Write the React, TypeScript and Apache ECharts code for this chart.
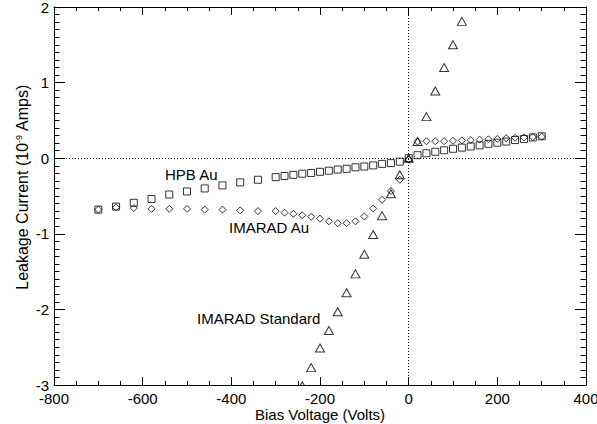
import React, { useEffect, useRef } from "react";
import * as echarts from "echarts";

// HPB Au (squares)
const hpbX = [-700, -660, -620, -580, -540, -500, -460, -420, -380, -340,
  -300, -280, -260, -240, -220, -200, -180, -160, -140, -120, -100, -80, -60, -40, -20,
  0, 20, 40, 60, 80, 100, 120, 140, 160, 180, 200, 220, 240, 260, 280, 300];
const hpbY = [-0.68, -0.64, -0.59, -0.54, -0.48, -0.44, -0.40, -0.36, -0.32, -0.285,
  -0.25, -0.235, -0.22, -0.205, -0.195, -0.18, -0.165, -0.15, -0.14, -0.12, -0.11, -0.095, -0.075, -0.065, -0.045,
  0.0, 0.04, 0.065, 0.085, 0.105, 0.125, 0.14, 0.155, 0.17, 0.19, 0.205, 0.22, 0.24, 0.255, 0.275, 0.29];

// IMARAD Au (diamonds)
const auX = hpbX;
const auY = [-0.68, -0.65, -0.66, -0.67, -0.67, -0.67, -0.68, -0.68, -0.69, -0.70,
  -0.70, -0.72, -0.735, -0.755, -0.775, -0.80, -0.835, -0.86, -0.86, -0.835, -0.77, -0.665, -0.55, -0.435, -0.285,
  -0.02, 0.22, 0.225, 0.225, 0.225, 0.23, 0.235, 0.24, 0.245, 0.25, 0.255, 0.265, 0.27, 0.275, 0.28, 0.285];

// IMARAD Standard (triangles)
const stdX = [-240, -220, -200, -180, -160, -140, -120, -100, -80, -60, -40, -20, 0, 20, 40, 60, 80, 100, 120];
const stdY = [-3.01, -2.77, -2.51, -2.28, -2.03, -1.78, -1.53, -1.27, -1.01, -0.76, -0.47, -0.22, 0.0, 0.22, 0.55, 0.89, 1.20, 1.50, 1.81];

const xTicks = { min: -800, max: 400, interval: 200 };
const yTicks = { min: -3, max: 2, interval: 1 };

const labels = ["HPB Au", "IMARAD Au", "IMARAD Standard"];
const xTitle = "Bias Voltage (Volts)";

const FONT = "'Liberation Sans', Arial, Helvetica, sans-serif";

const pairs = (xs: number[], ys: number[]) => xs.map((x, i) => [x, ys[i]]);

export default function App() {
  const ref = useRef<HTMLDivElement>(null);
  useEffect(() => {
    document.body.style.margin = "0";
    const chart = echarts.init(ref.current!, null, { renderer: "svg" });
    const axisCommon = {
      axisLine: { show: true, onZero: false, lineStyle: { color: "#000", width: 1 } },
      splitLine: { show: false },
      minorSplitLine: { show: false },
    };
    const symStyle = { color: "rgba(0,0,0,0)", borderColor: "#000", borderWidth: 1 };
    chart.setOption({
      animation: false,
      backgroundColor: "#fff",
      grid: { left: 54, right: 11, top: 7, bottom: 39, containLabel: false, outerBoundsMode: "none" },
      xAxis: [
        {
          type: "value", ...xTicks, position: "bottom", ...axisCommon,
          axisTick: { inside: true, length: 8, lineStyle: { color: "#000" } },
          minorTick: { show: true, splitNumber: 4, length: 4, lineStyle: { color: "#000" } },
          axisLabel: { color: "#000", fontSize: 15, fontFamily: FONT, margin: 6 },
        },
        {
          type: "value", ...xTicks, position: "top", ...axisCommon,
          axisTick: { inside: true, length: 8, lineStyle: { color: "#000" } },
          minorTick: { show: true, splitNumber: 4, length: 4, lineStyle: { color: "#000" } },
          axisLabel: { show: false },
        },
      ],
      yAxis: [
        {
          type: "value", ...yTicks, position: "left", ...axisCommon,
          axisTick: { inside: true, length: 11, lineStyle: { color: "#000" } },
          minorTick: { show: true, splitNumber: 10, length: 5.5, lineStyle: { color: "#000" } },
          axisLabel: { color: "#000", fontSize: 15, fontFamily: FONT, margin: 5 },
        },
        {
          type: "value", ...yTicks, position: "right", ...axisCommon,
          axisTick: { inside: true, length: 11, lineStyle: { color: "#000" } },
          minorTick: { show: true, splitNumber: 10, length: 5.5, lineStyle: { color: "#000" } },
          axisLabel: { show: false },
        },
      ],
      series: [
        {
          name: labels[0], type: "scatter", data: pairs(hpbX, hpbY),
          symbol: "rect", symbolSize: 7, itemStyle: symStyle, z: 3,
          markLine: {
            silent: true, symbol: ["none", "none"], label: { show: false },
            lineStyle: { color: "#000", width: 1, type: [1, 2] },
            data: [{ yAxis: 0 }, { xAxis: 0 }],
          },
        },
        {
          name: labels[1], type: "scatter", data: pairs(auX, auY),
          symbol: "diamond", symbolSize: [7, 7], itemStyle: symStyle, z: 3,
        },
        {
          name: labels[2], type: "scatter", data: pairs(stdX, stdY), clip: false,
          symbol: "triangle", symbolSize: [9, 8], itemStyle: symStyle, z: 3,
        },
      ],
      graphic: [
        { type: "rect", z: 100, shape: { x: 290, y: 386, width: 20, height: 8 }, style: { fill: "#fff" } },
        { type: "text", x: 165, y: 174, style: { text: labels[0], font: `15px ${FONT}`, fill: "#000", verticalAlign: "middle" } },
        { type: "text", x: 229, y: 227, style: { text: labels[1], font: `15px ${FONT}`, fill: "#000", verticalAlign: "middle" } },
        { type: "text", x: 197, y: 318, style: { text: labels[2], font: `15px ${FONT}`, fill: "#000", verticalAlign: "middle" } },
        { type: "text", x: 320, y: 414, style: { text: xTitle, font: `15px ${FONT}`, fill: "#000", align: "center", verticalAlign: "middle" } },
        {
          type: "text", x: 22, y: 187, rotation: Math.PI / 2,
          style: {
            text: "{a|Leakage Current (10}{s|-9}{a| Amps)}",
            align: "center", verticalAlign: "middle", fill: "#000",
            rich: {
              a: { fontSize: 16, fontFamily: FONT, color: "#000" },
              s: { fontSize: 9, fontFamily: FONT, color: "#000", verticalAlign: "top" },
            },
          },
        },
      ],
    });
    return () => chart.dispose();
  }, []);
  return <div ref={ref} style={{ width: 597, height: 424 }} />;
}
